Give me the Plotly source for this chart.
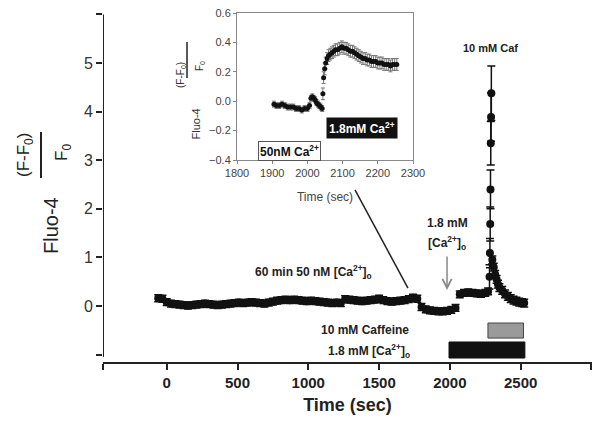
import plotly.graph_objects as go

FONT = "Liberation Sans"

# main trace: time (s), Fluo-4 (F-F0)/F0, error
main_t = [-60, -30, 0, 30, 60, 90, 120, 150, 180, 210, 240, 270, 300, 330, 360, 390,
          420, 450, 480, 510, 540, 570, 600, 630, 660, 690, 720, 750, 780, 810, 840,
          870, 900, 930, 960, 990, 1020, 1050, 1080, 1110, 1140, 1170, 1200, 1230,
          1260, 1290, 1320, 1350, 1380, 1410, 1440, 1470, 1500, 1530, 1560, 1590,
          1620, 1650, 1680, 1710, 1740, 1770,
          1800, 1830, 1860, 1890, 1920, 1950, 1980, 2010, 2040,
          2070, 2100, 2130, 2160, 2190, 2220, 2250, 2270,
          2280, 2283, 2285, 2287, 2289, 2291, 2293,
          2300, 2310, 2320, 2330, 2340, 2350, 2370, 2390, 2410, 2430, 2450, 2470,
          2490, 2510, 2525]
main_v = [0.16, 0.15, 0.08, 0.05, 0.04, 0.03, 0.02, 0.01, 0.02, 0.03, 0.04, 0.05, 0.04,
          0.03, 0.02, 0.03, 0.04, 0.05, 0.06, 0.07, 0.06, 0.07, 0.08, 0.07, 0.06, 0.05,
          0.07, 0.09, 0.11, 0.12, 0.13, 0.12, 0.13, 0.12, 0.11, 0.10, 0.11, 0.10, 0.09,
          0.08, 0.07, 0.06, 0.07, 0.06, 0.14, 0.13, 0.12, 0.11, 0.10, 0.11, 0.12, 0.13,
          0.15, 0.12, 0.10, 0.09, 0.10, 0.11, 0.12, 0.14, 0.17, 0.15,
          -0.02, -0.07, -0.09, -0.10, -0.11, -0.11, -0.10, -0.08, -0.04,
          0.24, 0.27, 0.28, 0.27, 0.26, 0.25, 0.27, 0.30,
          0.60, 1.09, 1.69, 2.40, 3.35, 3.89, 4.38,
          0.95, 0.80, 0.65, 0.55, 0.45, 0.38, 0.32, 0.25, 0.20, 0.15, 0.12, 0.10,
          0.08, 0.07, 0.06]
main_err = [0.07] * 62 + [0.07] * 9 + [0.07] * 8 + \
           [0.25, 0.3, 0.35, 0.4, 0.45, 0.5, 0.56] + [0.08] * 15

# inset trace
inset_t = [1905, 1912, 1920, 1928, 1936, 1944, 1952, 1960, 1968, 1976, 1984, 1992, 2000,
           2006, 2010, 2014, 2018, 2022, 2026, 2030, 2034, 2038, 2042, 2044, 2046,
           2049, 2052, 2056, 2060, 2065, 2070, 2075, 2080, 2086, 2092, 2098, 2104,
           2110, 2116, 2122, 2128, 2134, 2140, 2146, 2152, 2158, 2164, 2170, 2176,
           2182, 2188, 2194, 2200, 2206, 2212, 2218, 2224, 2230, 2236, 2242, 2248, 2254]
inset_v = [-0.02, -0.03, -0.03, -0.02, -0.03, -0.04, -0.04, -0.04, -0.05, -0.05, -0.06,
           -0.05, -0.05, -0.03, 0.02, 0.03, 0.02, 0.01, -0.01, -0.02, -0.03, -0.04,
           -0.05, 0.05, 0.16, 0.22, 0.26, 0.29, 0.31, 0.32, 0.33, 0.34, 0.35, 0.35,
           0.36, 0.37, 0.36, 0.36, 0.35, 0.34, 0.34, 0.33, 0.32, 0.31, 0.30, 0.29,
           0.29, 0.28, 0.28, 0.27, 0.27, 0.27, 0.26, 0.26, 0.26, 0.25, 0.25, 0.25,
           0.24, 0.25, 0.25, 0.25]
inset_err = [0.02] * 23 + [0.04] * 39

# application bars: (start, end) in seconds
caffeine_bar = [2269, 2520]
calcium_bar = [1994, 2530]

main_xticks = [-450, 0, 500, 1000, 1500, 2000, 2500, 3000]
main_xtext = ["", "0", "500", "1000", "1500", "2000", "2500", ""]
main_yticks = [-1, 0, 1, 2, 3, 4, 5, 6]
main_ytext = ["", "0", "1", "2", "3", "4", "5", ""]

fig = go.Figure()

fig.add_trace(go.Scatter(
    x=main_t, y=main_v, mode="markers",
    marker=dict(color="#111", size=8),
    error_y=dict(type="data", array=main_err, color="#111", thickness=1.5, width=4),
    xaxis="x", yaxis="y", showlegend=False
))

fig.add_trace(go.Scatter(
    x=inset_t, y=inset_v, mode="markers",
    marker=dict(color="#111", size=5),
    error_y=dict(type="data", array=inset_err, color="#777", thickness=1, width=2),
    xaxis="x2", yaxis="y2", showlegend=False
))

# stimulus bars
fig.add_shape(type="rect", xref="x", yref="y", x0=caffeine_bar[0], x1=caffeine_bar[1],
              y0=-0.66, y1=-0.35, fillcolor="#9a9a9a", line=dict(color="#444", width=1))
fig.add_shape(type="rect", xref="x", yref="y", x0=calcium_bar[0], x1=calcium_bar[1],
              y0=-1.07, y1=-0.74, fillcolor="#111", line=dict(color="#111", width=1))

# y axis line (offset from x axis)
fig.add_shape(type="line", xref="x", yref="y", x0=-450, x1=-450, y0=-1.05, y1=6.0,
              line=dict(color="#222", width=2))

# connecting line from inset
fig.add_shape(type="line", xref="x", yref="y", x0=1330, y0=2.39, x1=1704, y1=0.37,
              line=dict(color="#222", width=1.5))

# y title fraction bars
fig.add_shape(type="line", xref="paper", yref="paper", x0=41 / 600, x1=41 / 600,
              y0=1 - 178 / 428, y1=1 - 132 / 428, line=dict(color="#222", width=2))
fig.add_shape(type="line", xref="paper", yref="paper", x0=187 / 600, x1=187 / 600,
              y0=1 - 78 / 428, y1=1 - 42 / 428, line=dict(color="#222", width=1.5))

bold = dict(family=FONT, size=12, color="#222")
ann = [
    dict(x=2290, y=5.31, xref="x", yref="y", text="<b>10 mM Caf</b>", showarrow=False,
         font=dict(family=FONT, size=11, color="#222")),
    dict(x=1980, y=1.71, xref="x", yref="y", text="<b>1.8 mM</b>", showarrow=False, font=bold),
    dict(x=1980, y=1.30, xref="x", yref="y", text="<b>[Ca<sup>2+</sup>]<sub>o</sub></b>",
         showarrow=False, font=bold),
    dict(x=1980, y=0.33, ax=1980, ay=1.05, xref="x", yref="y", axref="x", ayref="y",
         text="", showarrow=True, arrowhead=5, arrowsize=1.2, arrowwidth=1.5,
         arrowcolor="#888"),
    dict(x=1034, y=0.70, xref="x", yref="y",
         text="<b>60 min 50 nM [Ca<sup>2+</sup>]<sub>o</sub></b>", showarrow=False, font=bold),
    dict(x=1725, y=-0.49, xref="x", yref="y", text="<b>10 mM Caffeine</b>",
         showarrow=False, xanchor="right", font=bold),
    dict(x=1735, y=-0.92, xref="x", yref="y",
         text="<b>1.8 mM [Ca<sup>2+</sup>]<sub>o</sub></b>",
         showarrow=False, xanchor="right", font=bold),
    # main y title
    dict(x=38 / 600, y=1 - 226 / 428, xref="paper", yref="paper", text="Fluo-4",
         textangle=-90, showarrow=False, font=dict(family=FONT, size=20, color="#222")),
    dict(x=12 / 600, y=1 - 155 / 428, xref="paper", yref="paper", text="(F-F<sub>0</sub>)",
         textangle=-90, showarrow=False, font=dict(family=FONT, size=17, color="#222")),
    dict(x=50 / 600, y=1 - 153 / 428, xref="paper", yref="paper", text="F<sub>0</sub>",
         textangle=-90, showarrow=False, font=dict(family=FONT, size=17, color="#222")),
    # inset y title
    dict(x=187 / 600, y=1 - 107 / 428, xref="paper", yref="paper", text="Fluo-4",
         textangle=-90, showarrow=False, font=dict(family=FONT, size=11, color="#333")),
    dict(x=173 / 600, y=1 - 60 / 428, xref="paper", yref="paper", text="(F-F<sub>0</sub>)",
         textangle=-90, showarrow=False, font=dict(family=FONT, size=10, color="#333")),
    dict(x=192 / 600, y=1 - 59 / 428, xref="paper", yref="paper", text="F<sub>0</sub>",
         textangle=-90, showarrow=False, font=dict(family=FONT, size=10, color="#333")),
    # inset labels
    dict(x=2155, y=-0.18, xref="x2", yref="y2", text="<b>1.8mM Ca<sup>2+</sup></b>",
         showarrow=False, bgcolor="#111", borderpad=2,
         font=dict(family=FONT, size=12, color="white")),
    dict(x=1950, y=-0.34, xref="x2", yref="y2", text="<b>50nM Ca<sup>2+</sup></b>",
         showarrow=False, bgcolor="white", bordercolor="#555", borderwidth=1, borderpad=1,
         font=dict(family=FONT, size=12, color="#111")),
]

fig.update_layout(
    width=600, height=428,
    margin=dict(l=0, r=0, t=0, b=0, autoexpand=False),
    paper_bgcolor="white", plot_bgcolor="rgba(0,0,0,0)",
    annotations=ann,
    xaxis=dict(domain=[103 / 600, 592 / 600], range=[-450, 3004], automargin=False,
               tickvals=main_xticks, ticktext=main_xtext,
               showline=True, linecolor="#222", linewidth=2,
               ticks="outside", ticklen=6, tickwidth=2, tickcolor="#222",
               showgrid=False, zeroline=False,
               tickfont=dict(family=FONT, size=15, color="#222", weight="bold"),
               title=dict(text="<b>Time (sec)</b>", standoff=8,
                          font=dict(family=FONT, size=18, color="#222"))),
    yaxis=dict(domain=[1 - 362 / 428, 1 - 14 / 428], range=[-1.152, 6.01], automargin=False,
               tickvals=main_yticks, ticktext=main_ytext,
               showline=False, ticks="outside", ticklen=6, tickwidth=2,
               tickcolor="#222", showgrid=False, zeroline=False,
               tickfont=dict(family=FONT, size=16, color="#333")),
    xaxis2=dict(domain=[237 / 600, 413 / 600], range=[1800, 2300], anchor="y2",
                automargin=False,
                dtick=100, showline=True, mirror=True, linecolor="#888", linewidth=1,
                ticks="outside", ticklen=3, tickcolor="#888", showgrid=False,
                zeroline=False, tickfont=dict(family=FONT, size=11, color="#444"),
                title=dict(text="Time (sec)", standoff=14,
                           font=dict(family=FONT, size=12, color="#444"))),
    yaxis2=dict(domain=[1 - 160 / 428, 1 - 13 / 428], range=[-0.4, 0.6], anchor="x2",
                automargin=False,
                dtick=0.2, tickformat=".1f", showline=True, mirror=True,
                linecolor="#888", linewidth=1, ticks="outside", ticklen=3,
                tickcolor="#888", showgrid=False, zeroline=False,
                tickfont=dict(family=FONT, size=11, color="#444")),
)

fig.write_html("out.html", config={"displayModeBar": False},
               post_script="document.body.style.margin='0';")
